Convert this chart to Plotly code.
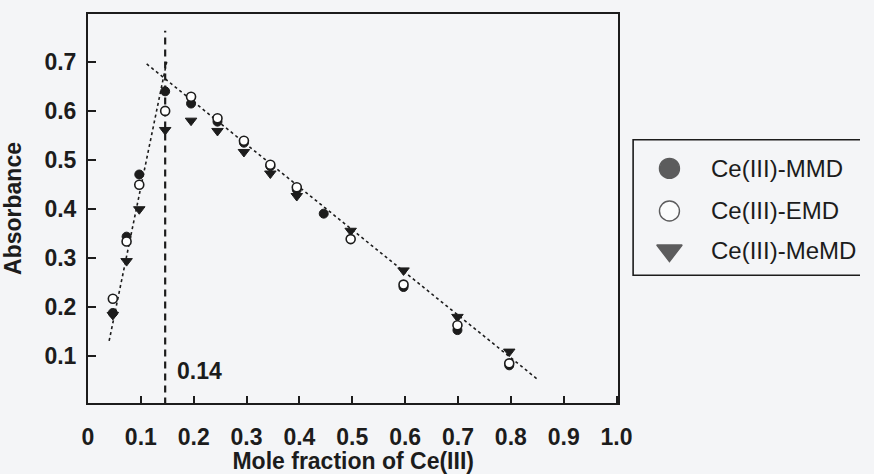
import plotly.graph_objects as go

# ---- data ----
mole_fraction = [0.047, 0.073, 0.097, 0.146, 0.195, 0.245, 0.295, 0.345, 0.395, 0.446, 0.497, 0.597, 0.699, 0.797]
abs_mmd  = [0.187, 0.343, 0.470, 0.640, 0.615, 0.578, 0.535, 0.487, 0.439, 0.390, None, 0.240, 0.152, 0.080]
abs_emd  = [0.216, 0.333, 0.449, 0.600, 0.629, 0.585, 0.539, 0.490, 0.444, None, 0.338, 0.245, 0.162, 0.084]
abs_memd = [0.183, 0.293, 0.399, 0.561, 0.580, 0.559, 0.516, 0.472, 0.426, None, 0.355, 0.274, 0.179, 0.108]

fit_left_x = [0.040, 0.150]
fit_left_y = [0.130, 0.706]
fit_right_x = [0.111, 0.851]
fit_right_y = [0.696, 0.051]

job_x = 0.146
job_top = 0.764
job_label = "0.14"

x_tickvals = [0, 0.1, 0.2, 0.3, 0.4, 0.5, 0.6, 0.7, 0.8, 0.9, 1.0]
x_ticktext = ["0", "0.1", "0.2", "0.3", "0.4", "0.5", "0.6", "0.7", "0.8", "0.9", "1.0"]
y_tickvals = [0.1, 0.2, 0.3, 0.4, 0.5, 0.6, 0.7]
y_ticktext = ["0.1", "0.2", "0.3", "0.4", "0.5", "0.6", "0.7"]

names = ["Ce(III)-MMD", "Ce(III)-EMD", "Ce(III)-MeMD"]

INK = "#1c1c1c"
BG = "#f4f5f7"
FONT = "Liberation Sans, Arial, sans-serif"

W, H = 874, 474
ML, MR, MT, MB = 88, 0, 14, 67
PW = W - ML - MR
PLOT_RIGHT = 628
main_dom = [0, (PLOT_RIGHT - ML) / PW]
LEG_L = 643
leg_dom_x = [(LEG_L - ML) / PW, 1]
ph = H - MT - MB
leg_dom_y = [(H - MB - 278) / ph, (H - MB - 141) / ph]

fig = go.Figure()

# fit lines
fig.add_trace(go.Scatter(x=fit_left_x, y=fit_left_y, mode="lines",
                         line=dict(color=INK, width=1.6, dash="dot"), showlegend=False, hoverinfo="skip"))
fig.add_trace(go.Scatter(x=fit_right_x, y=fit_right_y, mode="lines",
                         line=dict(color=INK, width=1.6, dash="dot"), showlegend=False, hoverinfo="skip"))
# job's vertical line
fig.add_trace(go.Scatter(x=[job_x, job_x], y=[0, job_top], mode="lines",
                         line=dict(color=INK, width=2.2, dash="7px,5px"), showlegend=False, hoverinfo="skip"))

# data markers (draw order: MMD, MeMD, EMD on top)
fig.add_trace(go.Scatter(x=mole_fraction, y=abs_mmd, mode="markers", name=names[0], showlegend=False,
                         marker=dict(symbol="circle", size=9, color=INK, line=dict(color=INK, width=1))))
fig.add_trace(go.Scatter(x=mole_fraction, y=abs_memd, mode="markers", name=names[2], showlegend=False,
                         marker=dict(symbol="triangle-down", size=10, color=INK, line=dict(color=INK, width=1))))
fig.add_trace(go.Scatter(x=mole_fraction, y=abs_emd, mode="markers", name=names[1], showlegend=False,
                         marker=dict(symbol="circle", size=9, color="white", line=dict(color=INK, width=1.6))))

# legend (drawn in its own small panel)
leg_rows = [108, 65, 25]
leg_sym = ["circle", "circle", "triangle-down"]
leg_fill = [INK, "white", INK]
leg_size = [20, 20, 22]
fig.add_trace(go.Scatter(x=[37, 37, 37], y=leg_rows, mode="markers", xaxis="x2", yaxis="y2",
                         showlegend=False, hoverinfo="skip",
                         marker=dict(symbol=leg_sym, size=leg_size, color=leg_fill,
                                     line=dict(color=INK, width=1.4))))
for nm, yy in zip(names, leg_rows):
    fig.add_annotation(x=77, y=yy, xref="x2", yref="y2", text=nm, showarrow=False,
                       xanchor="left", yanchor="middle",
                       font=dict(family=FONT, size=24, color=INK))

# legend frame: open on the right, where the reference is cut by the image edge
x0, y0, y1 = leg_dom_x[0], leg_dom_y[0], leg_dom_y[1]
fig.add_shape(type="path", xref="paper", yref="paper",
              path=f"M 1,{y0} L {x0},{y0} L {x0},{y1} L 1,{y1}",
              line=dict(color=INK, width=1.6))

fig.add_annotation(x=job_x + 0.018, y=0.068, xref="x", yref="y", text=job_label, showarrow=False,
                   xanchor="left", yanchor="middle", font=dict(family=FONT, size=23, color=INK, weight="bold"))

fig.update_layout(
    width=W, height=H,
    margin=dict(l=ML, r=MR, t=MT, b=MB),
    paper_bgcolor=BG, plot_bgcolor=BG,
    font=dict(family=FONT, color=INK),
    showlegend=False,
    xaxis=dict(domain=main_dom, range=[0, 1.0035], tickvals=x_tickvals, ticktext=x_ticktext,
               ticks="inside", ticklen=7,
               tickwidth=1.6, tickcolor=INK, showline=True, linewidth=2, linecolor=INK, mirror=True,
               showgrid=False, zeroline=False, ticklabelstandoff=12,
               tickfont=dict(family=FONT, size=23, color=INK, weight="bold"),
               title=dict(text="Mole fraction of Ce(III)", standoff=8,
                          font=dict(family=FONT, size=23, color=INK, weight="bold"))),
    yaxis=dict(range=[0.003, 0.798], tickvals=y_tickvals, ticktext=y_ticktext, ticks="inside", ticklen=8,
               tickwidth=1.6, tickcolor=INK, showline=True, linewidth=2, linecolor=INK, mirror=True,
               showgrid=False, zeroline=False, ticklabelstandoff=5,
               tickfont=dict(family=FONT, size=23, color=INK, weight="bold"),
               title=dict(text="Absorbance", standoff=16,
                          font=dict(family=FONT, size=23, color=INK, weight="bold"))),
    xaxis2=dict(domain=leg_dom_x, range=[0, 231], visible=False, fixedrange=True, anchor="y2"),
    yaxis2=dict(domain=leg_dom_y, range=[0, 137], visible=False, fixedrange=True, anchor="x2"),
)

fig.write_html(
    "out.html",
    config={"displayModeBar": False},
    post_script="document.body.style.margin='0';document.body.style.overflow='hidden';"
                "document.documentElement.style.overflow='hidden';",
)
